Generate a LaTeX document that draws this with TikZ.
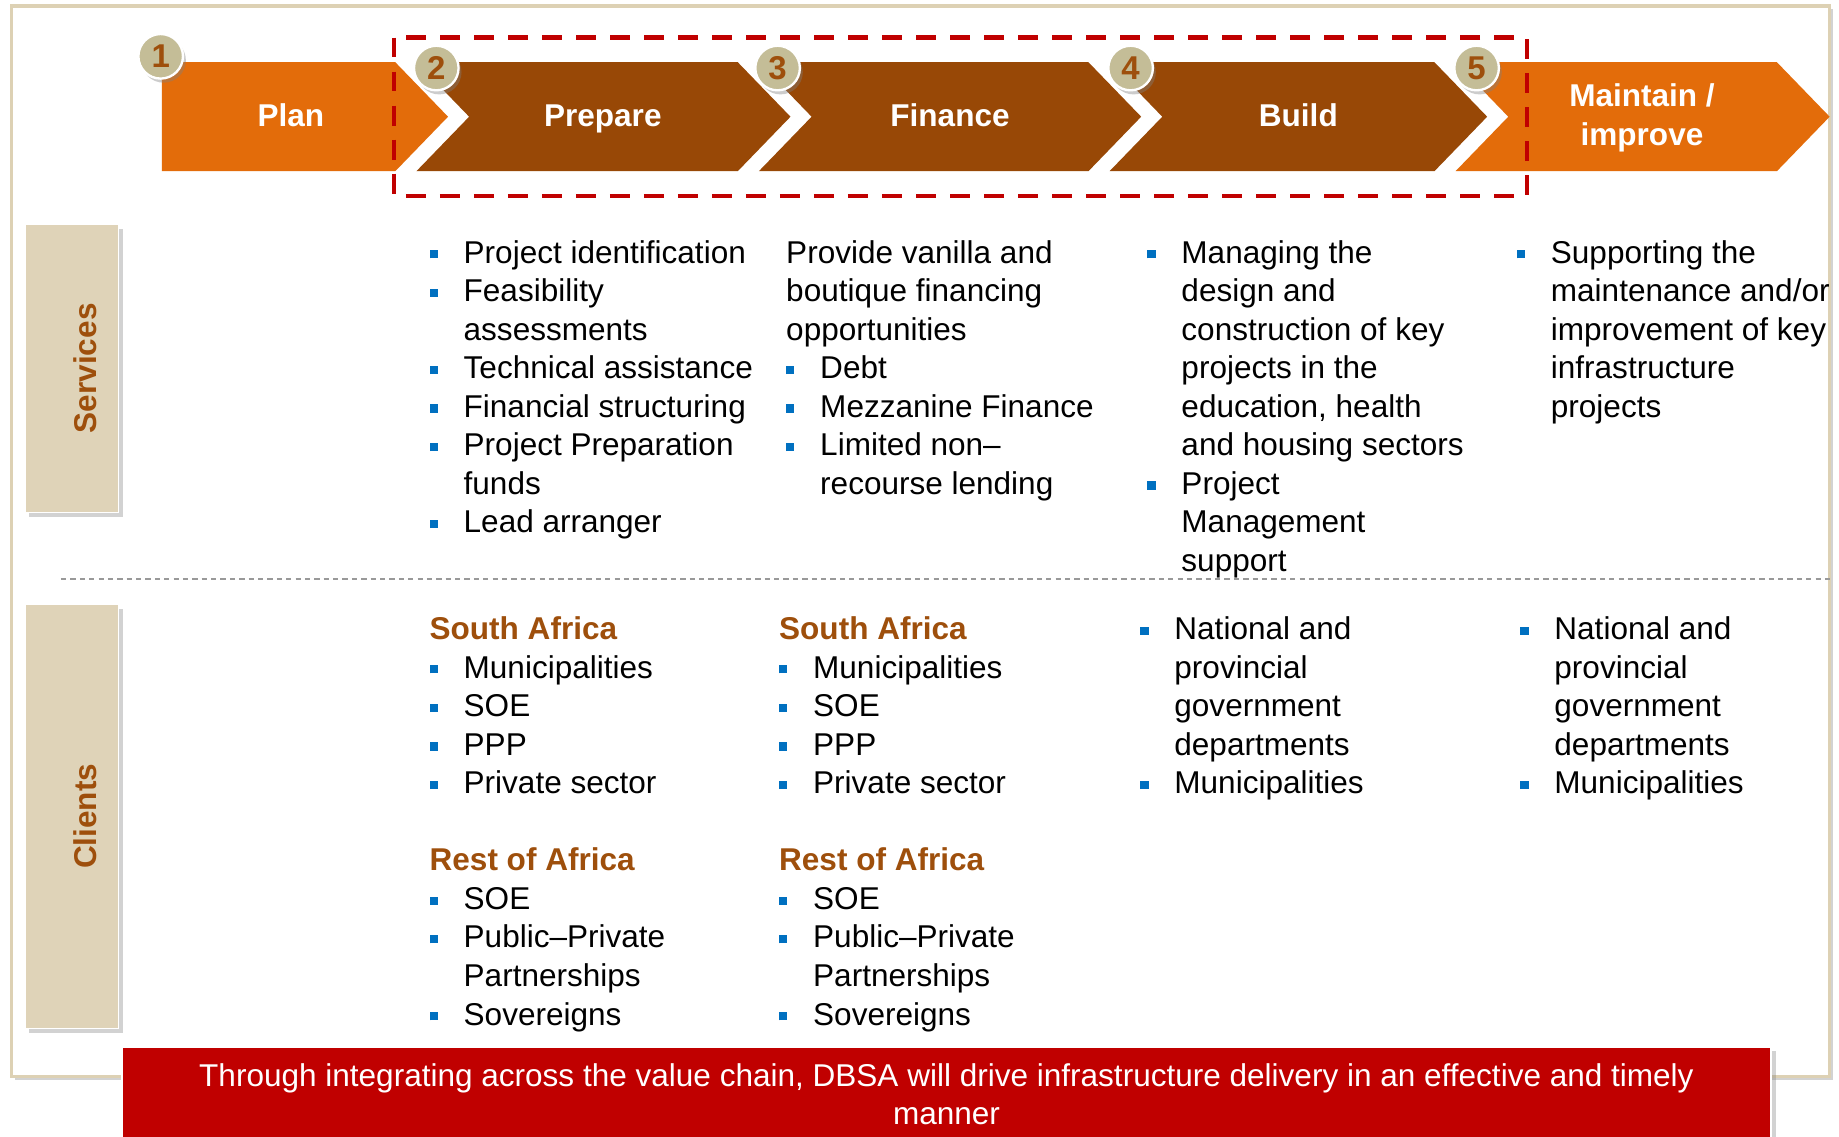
\documentclass[tikz,border=0pt]{standalone}
\usepackage{fontspec}
\setmainfont{Liberation Sans}
\usepackage{xcolor}
\usetikzlibrary{calc}
\usetikzlibrary{shadows}
\definecolor{orng}{HTML}{E36C0A}
\definecolor{brwn}{HTML}{984806}
\definecolor{hdbrwn}{HTML}{9E4F0C}
\definecolor{tan}{HTML}{C4BD97}
\definecolor{tabfill}{HTML}{DFD3B8}
\definecolor{framec}{HTML}{DDD1B4}
\definecolor{dbred}{HTML}{C00000}
\definecolor{bltblue}{HTML}{0070C0}
\newcommand{\bitem}{\strut\makebox[5.8mm][l]{\raisebox{0.8mm}{\textcolor{bltblue}{\rule{1.4mm}{1.4mm}}}}}
\newcommand{\bcont}{\strut\hspace*{5.8mm}}
\newcommand{\hd}[1]{\strut\textcolor{hdbrwn}{\bfseries #1}}

\begin{document}
\begin{tikzpicture}[x=0.2mm, y=-0.2mm,
    txt/.style={anchor=north west, align=left, inner sep=0pt,
      font=\fontsize{15.3}{18.7}\selectfont},
    chev/.style={text=white, align=center, inner sep=0pt,
      font=\fontsize{15.3}{18.7}\selectfont\bfseries},
    numdot/.style={circle, fill=tan, draw=white, line width=0.4mm,
      minimum size=7.6mm, inner sep=0pt, text=hdbrwn,
      font=\fontsize{16}{18}\selectfont\bfseries,
      drop shadow={shadow xshift=0.5mm, shadow yshift=-0.7mm, opacity=0.4}},
    tab/.style={fill=tabfill, draw=white, line width=0.3mm, minimum width=16mm,
      drop shadow={shadow xshift=0.8mm, shadow yshift=-0.8mm, opacity=0.35}},
    tabtxt/.style={rotate=90, text=hdbrwn, inner sep=0pt,
      font=\fontsize{15.3}{18.7}\selectfont\bfseries},
    banner/.style={fill=dbred, draw=white, line width=0.3mm,
      minimum width=281.2mm, minimum height=17.2mm, text=white, align=center,
      font=\fontsize{15.3}{18.7}\selectfont,
      drop shadow={shadow xshift=0.8mm, shadow yshift=-0.6mm, opacity=0.35}}]
  \fill[white] (0,0) rectangle (1568,969);
  \useasboundingbox (0,0) rectangle (1568,969);

  \draw[framec, line width=0.6mm, fill=white,
    drop shadow={shadow xshift=0.6mm, shadow yshift=-0.6mm, opacity=0.35}]
    (10,5) rectangle (1560,918);

  \foreach \nm/\lx/\nd/\tx/\cx/\col/\lbl in {plan/138/0/382/248/orng/Plan,
      prep/355/45/674/514/brwn/Prepare, fin/647/45/973/810/brwn/Finance,
      bld/946/45/1268/1107/brwn/Build, mnt/1241/45/1560/1400/orng/{Maintain /\\improve}}{
    \fill[\col] (\lx,53) -- (\tx-45,53) -- (\tx,99.5) -- (\tx-45,146) -- (\lx,146)
      -- (\lx+\nd,99.5) -- cycle;
    \node[chev] (\nm) at (\cx,101) {\strut\lbl\strut};
  }

  \draw[dbred, line width=0.8mm, dash pattern=on 3.4mm off 2.4mm] (336,32) rectangle (1302,167);

  \foreach \i/\cx/\cy in {1/137/48, 2/372/58, 3/663/58, 4/964/58, 5/1259/58}
    \node[numdot] (num\i) at (\cx,\cy) {\i};

  \node[tab, minimum height=49.2mm] (srvtab) at (61,314) {};
  \node[tabtxt] (srvlbl) at (73,314) {Services};
  \node[tab, minimum height=72.4mm] (clttab) at (61,696) {};
  \node[tabtxt] (cltlbl) at (73,696) {Clients};

  \draw[gray!80, line width=0.35mm, dash pattern=on 0.9mm off 0.7mm] (52,494) -- (1562,494);

  \node[txt] (srvprep) at (366,201) {\bitem Project identification\\ \bitem Feasibility\\
    \bcont assessments\\ \bitem Technical assistance\\ \bitem Financial structuring\\
    \bitem Project Preparation\\ \bcont funds\\ \bitem Lead arranger};
  \node[txt] (srvfin) at (670,201) {\strut Provide vanilla and\\ \strut boutique financing\\
    \strut opportunities\\ \bitem Debt\\ \bitem Mezzanine Finance\\ \bitem Limited non--\\
    \bcont recourse lending};
  \node[txt] (srvbld) at (978,201) {\bitem Managing the\\ \bcont design and\\
    \bcont construction of key\\ \bcont projects in the\\ \bcont education, health\\
    \bcont and housing sectors\\ \bitem Project\\ \bcont Management\\ \bcont support};
  \node[txt] (srvmnt) at (1293,201) {\bitem Supporting the\\ \bcont maintenance and/or\\
    \bcont improvement of key\\ \bcont infrastructure\\ \bcont projects};

  \foreach \nm/\cx in {cltprep/366, cltfin/664}
    \node[txt] (\nm) at (\cx,522) {\hd{South Africa}\\ \bitem Municipalities\\ \bitem SOE\\
      \bitem PPP\\ \bitem Private sector\\ \strut\\ \hd{Rest of Africa}\\ \bitem SOE\\
      \bitem Public--Private\\ \bcont Partnerships\\ \bitem Sovereigns};
  \foreach \nm/\cx in {cltbld/972, cltmnt/1296}
    \node[txt] (\nm) at (\cx,522) {\bitem National and\\ \bcont provincial\\
      \bcont government\\ \bcont departments\\ \bitem Municipalities};

  \node[banner] (msg) at (807,936) {\strut Through integrating across the value chain,
    DBSA will drive infrastructure delivery in an effective and timely\\ manner\strut};
\end{tikzpicture}
\end{document}
